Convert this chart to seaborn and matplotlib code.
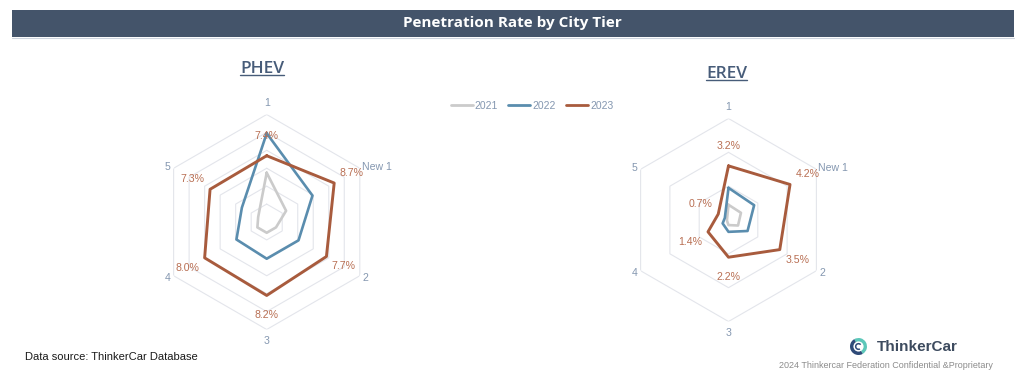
import numpy as np
import matplotlib
matplotlib.use('Agg')
import matplotlib.pyplot as plt
import seaborn as sns
from matplotlib.lines import Line2D
from matplotlib.patches import Rectangle, Wedge, Circle

tiers = ['1', 'New 1', '2', '3', '4', '5']
years = ['2021', '2022', '2023']

# penetration rate, %
phev_2021 = [5.5, 2.5, 1.2, 1.2, 1.2, 1.1]
phev_2022 = [9.9, 5.9, 4.1, 4.1, 3.9, 3.2]
phev_2023 = [7.4, 8.7, 7.7, 8.2, 8.0, 7.3]

erev_2021 = [0.9, 0.85, 0.65, 0.3, 0.1, 0.1]
erev_2022 = [1.9, 1.75, 1.3, 0.7, 0.4, 0.25]
erev_2023 = [3.2, 4.2, 3.5, 2.2, 1.4, 0.7]

colors = {'2021': '#CBCBCB', '2022': '#5A8DAE', '2023': '#A85B3D'}
widths = {'2021': 1.9, '2022': 1.9, '2023': 2.1}
GRID = '#E3E5EB'
TXT = '#8497B0'
LBL = '#B86E52'

sns.set_theme(style='white')
plt.rcParams['font.family'] = ['Liberation Sans', 'DejaVu Sans']

W, H = 1024, 374
fig = plt.figure(figsize=(W / 100, H / 100), dpi=100)
fig.patch.set_facecolor('white')


def fx(x):
    return x / W


def fy(y):
    return 1 - y / H


def radar(ax, series, rmax):
    theta = np.linspace(0, 2 * np.pi, len(tiers), endpoint=False)
    theta_c = np.append(theta, 2 * np.pi)
    ax.set_theta_zero_location('N')
    ax.set_theta_direction(-1)
    for r in np.arange(2, rmax + 0.01, 2):
        ax.plot(theta_c, np.full(len(theta_c), r), color=GRID, lw=0.8, zorder=1)
    for year, vals in zip(years, series):
        v = np.append(vals, vals[0])
        sns.lineplot(x=theta_c, y=v, color=colors[year], lw=widths[year],
                     sort=False, estimator=None, ax=ax, zorder=3)
    ax.set_xlim(0, 2 * np.pi)
    ax.set_ylim(0, rmax)
    ax.grid(False)
    ax.set_xticks([])
    ax.set_yticks([])
    ax.set_xlabel('')
    ax.set_ylabel('')
    ax.spines['polar'].set_visible(False)
    ax.set_facecolor('none')

    # value labels of latest year
    for th, val in zip(theta, series[-1]):
        dx, dy = np.sin(th) * 20, np.cos(th) * 20
        ax.annotate(f'{val:.1f}%', xy=(th, val), xytext=(dx * 0.72, dy * 0.72),
                    textcoords='offset points', ha='center', va='center',
                    fontsize=7.6, color=LBL, zorder=5, annotation_clip=False)

    # category labels
    offs = {'1': (0, 11, 'center'), 'New 1': (2, 1, 'left'), '2': (3, -2, 'left'),
            '3': (0, -11.5, 'center'), '4': (-3, -2, 'right'), '5': (-3, 1, 'right')}
    for th, t in zip(theta, tiers):
        dx, dy, ha = offs[t]
        ax.annotate(t, xy=(th, rmax), xytext=(dx * 0.72, dy * 0.72),
                    textcoords='offset points', ha=ha, va='center',
                    fontsize=7.6, color=TXT, annotation_clip=False)


ax1 = fig.add_axes([fx(266.7 - 107.5), fy(222 + 107.5), 215 / W, 215 / H], projection='polar')
radar(ax1, [phev_2021, phev_2022, phev_2023], 12)

ax2 = fig.add_axes([fx(728.5 - 101.5), fy(220 + 101.5), 203 / W, 203 / H], projection='polar')
radar(ax2, [erev_2021, erev_2022, erev_2023], 6)

# header bar
fig.add_artist(Rectangle((fx(12), fy(37)), 1002 / W, 27.5 / H, transform=fig.transFigure,
                         facecolor='#44546A', edgecolor='none'))
fig.add_artist(Line2D([fx(12), fx(1014)], [fy(38), fy(38)], transform=fig.transFigure,
                      color='#CDD4DE', lw=0.8))
fig.text(0.5, fy(23), 'Penetration Rate by City Tier', ha='center', va='center',
         color='white', fontsize=11, fontweight='bold', family='Open Sans')

# chart titles with underline
subs = []
for name, x, yb in [('PHEV', 262, 72.7), ('EREV', 726.5, 77.7)]:
    t = fig.text(fx(x), fy(yb), name, ha='center', va='baseline', color='#475C79',
                 fontsize=12.5, fontweight='semibold', family='Open Sans')
    subs.append((t, yb))
fig.canvas.draw()
renderer = fig.canvas.get_renderer()
for t, yb in subs:
    bb = t.get_window_extent(renderer)
    fig.add_artist(Line2D([bb.x0 / W, bb.x1 / W], [fy(yb + 2.3), fy(yb + 2.3)],
                          transform=fig.transFigure, color='#475C79', lw=1.0))

# legend
handles = [Line2D([0], [0], color=colors[y], lw=2.0) for y in years]
fig.legend(handles, years, loc='center', bbox_to_anchor=(fx(532), fy(105.7)), ncol=3,
           frameon=False, fontsize=7.5, handlelength=2.1, handletextpad=0.2,
           columnspacing=1.0, labelcolor=TXT)

# footer
fig.text(fx(25), fy(356.7), 'Data source: ThinkerCar Database', ha='left', va='center',
         fontsize=8, color='#1A1A1A')
fig.text(fx(877), fy(347), 'ThinkerCar', ha='left', va='center', fontsize=11,
         fontweight='bold', color='#3D4B5F')
fig.text(fx(993), fy(366), '2024 Thinkercar Federation Confidential &Proprietary',
         ha='right', va='center', fontsize=6.5, color='#8C8C8C')

logo = fig.add_axes([fx(850), fy(355), 17 / W, 17 / H])
logo.set_xlim(-1, 1)
logo.set_ylim(-1, 1)
logo.set_aspect('equal')
logo.axis('off')
logo.add_patch(Wedge((0, 0), 1, -60, 120, facecolor='#5CC7B9', edgecolor='none'))
logo.add_patch(Wedge((0, 0), 1, 120, 300, facecolor='#2E4A78', edgecolor='none'))
logo.add_patch(Circle((0, 0), 0.6, facecolor='white', edgecolor='none'))
logo.add_patch(Wedge((0, 0), 0.42, 40, 300, width=0.18, facecolor='#2E4A78', edgecolor='none'))

fig.savefig('out.png', dpi=100, facecolor='white')
